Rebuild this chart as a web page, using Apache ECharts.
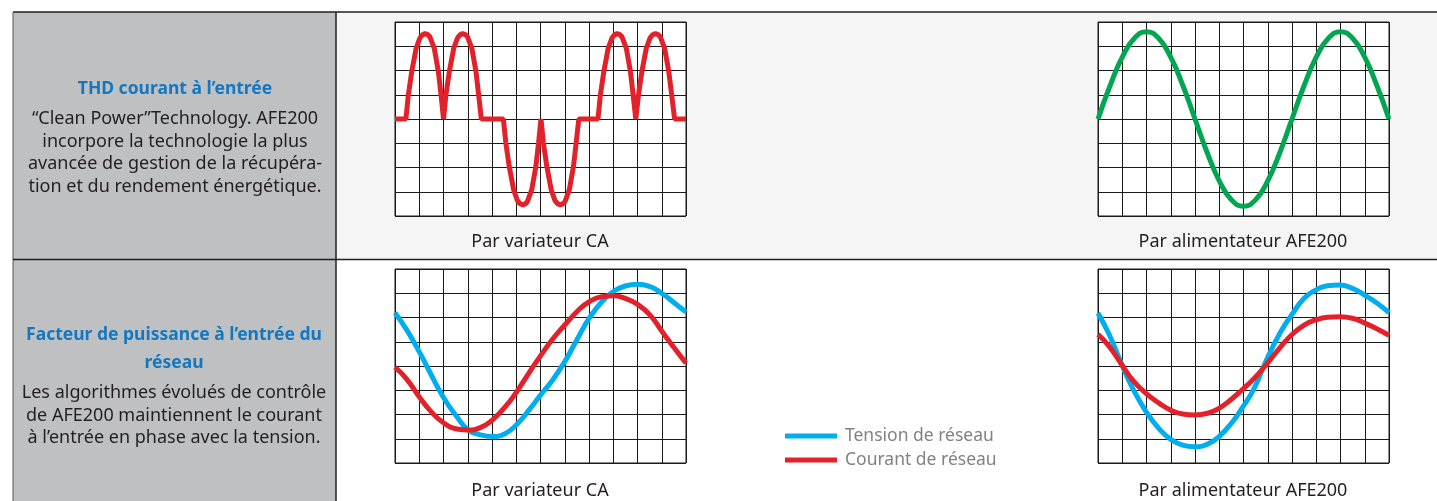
<!DOCTYPE html>
<html>
<head>
<meta charset="utf-8">
<script src="https://cdn.jsdelivr.net/npm/echarts@6/dist/echarts.min.js"></script>
<style>
html,body{margin:0;padding:0;background:#fff;}
#main{width:1437px;height:501px;}
</style>
</head>
<body>
<div id="main"></div>
<script>
// courbes, x en carreaux (0..12), y en carreaux (-4..4)
var thdVariateur = [
    [0,0],[0.45,0],
    [0.55,0.99],[0.69,1.95],[0.87,2.91],[1.03,3.35],[1.13,3.47],[1.24,3.52],[1.35,3.48],[1.44,3.39],[1.62,2.91],[1.79,1.95],[1.9,0.99],[2.0,0],
    [2.1,0.99],[2.24,1.95],[2.42,2.91],[2.58,3.35],[2.68,3.47],[2.79,3.52],[2.9,3.48],[2.99,3.39],[3.17,2.91],[3.34,1.95],[3.45,0.99],[3.56,0],
    [4.47,0],
    [4.57,-0.99],[4.71,-1.95],[4.89,-2.91],[5.05,-3.37],[5.15,-3.49],[5.26,-3.54],[5.37,-3.5],[5.46,-3.41],[5.64,-2.91],[5.81,-1.95],[5.92,-0.99],[6.02,0],
    [6.12,-0.99],[6.26,-1.95],[6.44,-2.91],[6.6,-3.37],[6.7,-3.49],[6.81,-3.54],[6.92,-3.5],[7.01,-3.41],[7.19,-2.91],[7.36,-1.95],[7.47,-0.99],[7.58,0],
    [8.37,0],
    [8.47,0.99],[8.61,1.95],[8.79,2.91],[8.95,3.35],[9.05,3.47],[9.16,3.52],[9.27,3.48],[9.36,3.39],[9.54,2.91],[9.71,1.95],[9.82,0.99],[9.93,0],
    [10.04,0.99],[10.18,1.95],[10.36,2.91],[10.52,3.35],[10.62,3.47],[10.74,3.52],[10.85,3.48],[10.94,3.39],[11.12,2.91],[11.29,1.95],[11.41,0.99],[11.53,0],
    [12,0]
];
var thdAfe = [
    [0,0],[0.5,1.38],[1,2.55],[1.5,3.33],[2,3.6],[2.5,3.33],[3,2.55],[3.5,1.38],[4,0],
    [4.5,-1.38],[5,-2.55],[5.5,-3.33],[6,-3.6],[6.5,-3.33],[7,-2.55],[7.5,-1.38],[8,0],
    [8.5,1.38],[9,2.55],[9.5,3.33],[10,3.6],[10.5,3.33],[11,2.55],[11.5,1.38],[12,0]
];
var tensionVariateur = [
    [0,2.2],[0.49,1.48],[1.02,0.55],[1.46,-0.3],[2.0,-1.3],[2.56,-2.1],[3.01,-2.63],[3.52,-2.84],[4.01,-2.91],
    [4.55,-2.78],[5.02,-2.41],[5.58,-1.75],[6.0,-1.2],[6.47,-0.62],[7.0,0.18],[7.57,1.21],[8.01,1.97],[8.53,2.65],[9.0,3.07],
    [9.49,3.3],[10.0,3.37],[10.52,3.27],[11.0,3.0],[11.55,2.58],[12,2.22]
];
var courantVariateur = [
    [0,-0.05],[0.49,-0.55],[1.02,-1.3],[1.46,-1.85],[2.0,-2.34],[2.56,-2.6],[3.01,-2.64],[3.52,-2.54],[4.01,-2.23],
    [4.55,-1.68],[5.02,-1.06],[5.58,-0.2],[6.0,0.42],[6.47,1.07],[7.0,1.69],[7.57,2.31],[8.01,2.65],[8.53,2.86],
    [9.0,2.9],[9.49,2.79],[10.0,2.54],[10.52,2.1],[11.0,1.44],[11.55,0.7],[12,0.12]
];
var tensionAfe = [
    [0,2.18],[0.47,1.28],[0.99,0.04],[1.43,-0.92],[1.98,-1.88],[2.53,-2.6],[2.98,-3.01],[3.49,-3.26],[3.99,-3.33],
    [4.52,-3.22],[4.99,-2.91],[5.55,-2.3],[5.9,-1.8],[6.44,-0.92],[6.98,0.32],[7.54,1.42],[7.98,2.1],[8.5,2.79],
    [8.97,3.13],[9.46,3.31],[9.97,3.34],[10.49,3.2],[10.98,2.93],[11.53,2.58],[12,2.2]
];
var courantAfe = [
    [0,1.3],[0.47,0.8],[0.99,0.04],[1.43,-0.58],[1.98,-1.13],[2.53,-1.54],[2.98,-1.81],[3.49,-1.98],[3.99,-2.02],
    [4.52,-1.95],[4.99,-1.75],[5.55,-1.33],[5.9,-1.02],[6.44,-0.51],[6.98,0.11],[7.54,0.8],[7.98,1.28],[8.5,1.69],
    [8.97,1.9],[9.46,2.01],[9.97,2.03],[10.49,1.97],[10.98,1.78],[11.53,1.52],[12,1.27]
];
var legendNames = ['Tension de réseau', 'Courant de réseau'];
var captions = ['Par variateur CA', 'Par alimentateur AFE200'];

var FONT = '"Noto Sans", sans-serif';
var INK = '#231f20';
var BLUE_TXT = '#1577bf';

var grids = [
    {left:395, top:22, width:291, height:194},
    {left:1098, top:22, width:291, height:194},
    {left:395, top:269, width:291, height:194},
    {left:1098, top:269, width:291, height:194}
];

function mkGrid(g){
    return {left:g.left, top:g.top, width:g.width, height:g.height, show:true,
        backgroundColor:'#fff', borderColor:'#1a1a1a', borderWidth:1, containLabel:false};
}
function mkX(i){
    return {type:'value', gridIndex:i, min:0, max:12, interval:1,
        axisLine:{show:false}, axisTick:{show:false}, axisLabel:{show:false},
        splitLine:{show:true, lineStyle:{color:'#1a1a1a', width:1}}};
}
function mkY(i){
    return {type:'value', gridIndex:i, min:-4, max:4, interval:1,
        axisLine:{show:false}, axisTick:{show:false}, axisLabel:{show:false},
        splitLine:{show:true, lineStyle:{color:'#1a1a1a', width:1}}};
}
function mkLine(name, i, data, color, smooth){
    return {name:name, type:'line', xAxisIndex:i, yAxisIndex:i, data:data,
        showSymbol:false, symbol:'none', smooth:smooth, z:5,
        lineStyle:{color:color, width:5}, itemStyle:{color:color}};
}
function txt(s, x, y, size, color, bold){
    return {type:'text', z:100, style:{text:s, x:x, y:y, align:'center', verticalAlign:'middle',
        font:(bold ? 'bold ' : '') + size + 'px ' + FONT, fill:color}};
}

var chart = echarts.init(document.getElementById('main'));
chart.setOption({
    animation:false,
    backgroundColor:'#fff',
    grid:grids.map(mkGrid),
    xAxis:[0,1,2,3].map(mkX),
    yAxis:[0,1,2,3].map(mkY),
    legend:{
        data:legendNames, orient:'vertical', left:785, top:427, padding:0,
        itemWidth:52, itemHeight:5, icon:'rect', itemGap:6,
        textStyle:{fontSize:17.5, color:'#808285', fontFamily:FONT, lineHeight:18, padding:[0,0,0,3]}
    },
    series:[
        mkLine('THD variateur', 0, thdVariateur, '#e3212b', false),
        mkLine('THD AFE200', 1, thdAfe, '#00a650', 0.5),
        mkLine(legendNames[0], 2, tensionVariateur, '#00aeef', 0.5),
        mkLine(legendNames[1], 2, courantVariateur, '#e3212b', 0.5),
        mkLine(legendNames[0], 3, tensionAfe, '#00aeef', 0.5),
        mkLine(legendNames[1], 3, courantAfe, '#e3212b', 0.5)
    ],
    graphic:[
        {type:'rect', z:-10, shape:{x:13, y:12, width:323, height:489}, style:{fill:'#bfc0c2'}},
        {type:'rect', z:-10, shape:{x:336, y:12, width:1101, height:247}, style:{fill:'#f5f5f5'}},
        {type:'line', z:-5, shape:{x1:13, y1:12, x2:1437, y2:12}, style:{stroke:INK, lineWidth:1.5}},
        {type:'line', z:-5, shape:{x1:13, y1:12, x2:13, y2:501}, style:{stroke:'#58595b', lineWidth:1}},
        {type:'line', z:-5, shape:{x1:336, y1:12, x2:336, y2:501}, style:{stroke:INK, lineWidth:1.5}},
        {type:'line', z:-5, shape:{x1:13, y1:259.5, x2:1437, y2:259.5}, style:{stroke:INK, lineWidth:1.5}},

        txt('THD courant à l’entrée', 175, 89, 17.5, BLUE_TXT, true),
        txt('“Clean Power”Technology. AFE200', 175, 118.5, 18, INK),
        txt('incorpore la technologie la plus', 175, 141.5, 18, INK),
        txt('avancée de gestion de la récupéra-', 175, 164, 18, INK),
        txt('tion et du rendement énergétique.', 175, 186.5, 18, INK),

        txt('Facteur de puissance à l’entrée du', 174, 335.5, 17.5, BLUE_TXT, true),
        txt('réseau', 174, 363, 17.5, BLUE_TXT, true),
        txt('Les algorithmes évolués de contrôle', 174, 392.5, 18, INK),
        txt('de AFE200 maintiennent le courant', 174, 416, 18, INK),
        txt('à l’entrée en phase avec la tension.', 174, 438, 18, INK),

        txt(captions[0], 540, 242, 18, INK),
        txt(captions[1], 1243, 242, 18, INK),
        txt(captions[0], 540, 491, 18, INK),
        txt(captions[1], 1243, 491, 18, INK)
    ]
});
</script>
</body>
</html>
